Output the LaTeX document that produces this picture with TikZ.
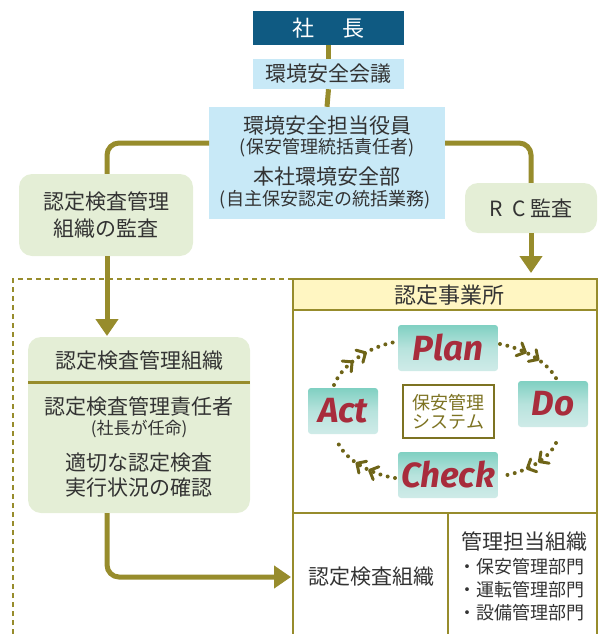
\documentclass[tikz,border=0pt]{standalone}
\usepackage{fontspec}
\setmainfont{Noto Sans CJK JP}
\newfontfamily\pdcafont{Fira Sans}
\usetikzlibrary{arrows.meta,decorations.markings}
\definecolor{olive}{HTML}{978C2C}
\definecolor{bossblue}{HTML}{0F5A82}
\definecolor{lblue}{HTML}{C8E9F7}
\definecolor{lgreen}{HTML}{E4EED6}
\definecolor{lyellow}{HTML}{FFF6C2}
\definecolor{txt}{HTML}{333333}
\definecolor{pdcared}{HTML}{A82C3C}
\definecolor{tealtop}{HTML}{80D0C2}
\definecolor{tealbot}{HTML}{CFEBE8}
\definecolor{frame}{HTML}{7D7322}
\definecolor{dotc}{HTML}{6E6418}
\tikzset{
  conn/.style={draw=olive,line width=5pt,rounded corners=12pt},
  arr/.style={conn,-{Triangle[length=17pt,width=22pt]}},
  bluebox/.style={fill=lblue,inner sep=0pt,text=txt},
  greenbox/.style={fill=lgreen,rounded corners=13pt,inner sep=0pt,text=txt,align=center},
  big/.style={text=txt,font=\fontsize{21}{24}\selectfont},
  small/.style={text=txt,font=\fontsize{18}{20}\selectfont},
  pdcabox/.style={rounded corners=3pt,top color=tealtop,bottom color=tealbot,middle color=tealbot!70!tealtop,inner sep=0pt,text=pdcared,font=\pdcafont\bfseries\itshape\fontsize{35}{36}\selectfont},
  chev/.style={dotc,line width=3pt,solid,line cap=round,line join=round},
  cyc/.style={draw=dotc,line width=4pt,line cap=round,dash pattern=on 0pt off 7.5pt,
    postaction={decorate},
    decoration={markings,
      mark=at position 0.37 with {\draw[chev] (-6pt,7pt)--(1pt,0pt)--(-6pt,-7pt);},
      mark=at position 0.58 with {\draw[chev] (-6pt,7pt)--(1pt,0pt)--(-6pt,-7pt);}}},
}
\begin{document}
\begin{tikzpicture}[x=1pt,y=-1pt]
\useasboundingbox (0,0) rectangle (598,634);
% top boxes
\node[fill=bossblue,minimum width=151pt,minimum height=34pt,inner sep=0pt,text=white,font=\fontsize{22}{24}\selectfont] (boss) at (328.5,28) {社\hspace{1.3em}長};
\node[bluebox,minimum width=151pt,minimum height=30pt,font=\fontsize{21}{23}\selectfont] (council) at (328.5,74) {環境安全会議};
\node[bluebox,minimum width=236pt,minimum height=112pt] (officer) at (327,163) {};
\node[big] at (327,126) {環境安全担当役員};
\node[small] at (327,148) {(保安管理統括責任者)};
\node[big] at (327,177) {本社環境安全部};
\node[small] at (325,200) {(自主保安認定の統括業務)};
\draw[conn] (boss.south) -- (council.north);
\draw[conn] (council.south) -- (officer.north);
% audit boxes
\node[greenbox,minimum width=174pt,minimum height=82pt,font=\fontsize{21}{27}\selectfont] (audit) at (106,215) {認定検査管理\\組織の監査};
\node[greenbox,minimum width=132pt,minimum height=50pt,font=\fontsize{21}{23}\selectfont] (rc) at (531,208) {R\hspace{0.45em}C\hspace{0.2em}監査};
\coordinate (oL) at (209,143);
\coordinate (oR) at (445,143);
\draw[conn] (oL) -| (audit.north -| 107,0);
\draw[conn] (oR) -| (rc.north);
% dashed frame
\draw[olive,line width=1.3pt,dash pattern=on 5pt off 4pt] (13,634) -- (13,279) -- (293,279);
% site box
\fill[lyellow] (293,279) rectangle (597,310);
\draw[olive,line width=2pt] (293,634) -- (293,279) -- (597,279) -- (597,634);
\draw[olive,line width=2pt] (293,310) -- (597,310);
\draw[olive,line width=2pt] (293,513) -- (597,513);
\draw[olive,line width=2pt] (448,513) -- (448,634);
\node[text=txt,font=\fontsize{22}{24}\selectfont] (site) at (449,295) {認定事業所};
\draw[arr] (rc.south) -- (531,273);
% left box
\node[greenbox,minimum width=222pt,minimum height=176pt] (org) at (139,425) {};
\draw[olive,line width=2.5pt] (28,382.5) -- (250,382.5);
\node[big] at (139,361) {認定検査管理組織};
\node[big] at (139,407) {認定検査管理責任者};
\node[text=txt,font=\fontsize{17}{19}\selectfont] at (139,429) {(社長が任命)};
\node[big] at (139,463) {適切な認定検査};
\node[big] at (139,488) {実行状況の確認};
\draw[arr] (audit.south -| 107,0) -- (107,336);
\coordinate (inTarget) at (291,577);
\draw[arr] (107,513) |- (inTarget);
% bottom texts
\node[big] (kensa) at (371,577) {認定検査組織};
\node[big,anchor=west] (kanri) at (458,542) {管理担当組織};
\node[small,anchor=west] at (455,567) {・保安管理部門};
\node[small,anchor=west] at (455,590) {・運転管理部門};
\node[small,anchor=west] at (455,613) {・設備管理部門};
% PDCA
\node[pdcabox,minimum width=100pt,minimum height=46pt] (plan) at (448,348) {Plan};
\node[pdcabox,minimum width=70pt,minimum height=46pt] (do) at (553,404) {Do};
\node[pdcabox,minimum width=70pt,minimum height=46pt] (act) at (343,411) {Act};
\node[pdcabox,minimum width=100pt,minimum height=46pt] (check) at (448,475) {Check};
\node[draw=frame,line width=1.3pt,fill=white,minimum width=91pt,minimum height=53pt,inner sep=0pt,text=frame,align=center,font=\fontsize{18}{19}\selectfont] (sys) at (448.5,411.5) {保安管理\\システム};
\draw[cyc] (500,344) .. controls (525,349) and (548,362) .. (557,380);
\draw[cyc] (556,443) .. controls (548,460) and (526,472) .. (502,476);
\draw[cyc] (395,478) .. controls (370,474) and (346,460) .. (338,443);
\draw[cyc] (334,385) .. controls (342,365) and (368,347) .. (395,342);
\end{tikzpicture}
\end{document}
